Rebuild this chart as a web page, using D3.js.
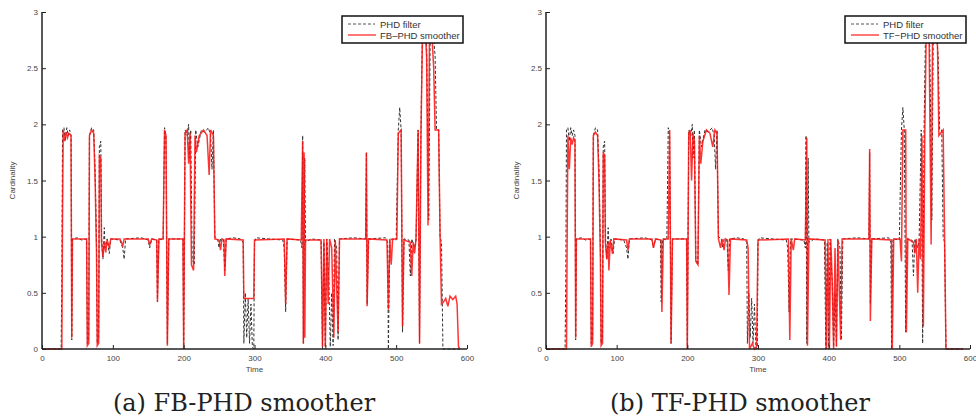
<!DOCTYPE html>
<html>
<head>
<meta charset="utf-8">
<script src="https://cdn.jsdelivr.net/npm/d3@7"></script>
<style>
  html, body { margin: 0; padding: 0; background: #fff; }
  svg { display: block; }
  .tick text { font-family: "Liberation Sans", Arial, sans-serif; font-size: 8px; fill: #444; }
</style>
</head>
<body>
<div id="container"></div>
<script>
// PHD filter cardinality [time, value] (same in both panels)
const phdPoints = [
  [1,0],[27,0],[28,0.62],[29,1.95],[31,1.97],[33,1.85],[35,1.97],[37,1.9],[39,1.95],[41,1.9],[42,0.08],[43,0.98],
  [50,0.99],[56,0.97],[63,0.98],[64,0.05],[66,0.1],[67,1.9],[70,1.97],[73,1.95],[75,1.6],[77,0.9],[78,0.05],[80,0.1],
  [81,1.8],[83,1.85],[84,1.0],[86,0.8],[88,1.08],[89,0.9],[92,0.98],[95,0.85],[97,0.98],[110,0.97],[114,0.9],[116,0.8],
  [118,0.98],[140,0.99],[150,0.97],[152,0.9],[155,0.98],[162,0.97],[163,0.42],[165,0.98],[171,0.97],[173,1.97],[175,1.9],
  [177,0.05],[179,0.98],[199,0.98],[200,0.0],[202,1.95],[205,1.9],[207,2.0],[208,1.7],[210,1.95],[212,0.8],[215,0.75],
  [217,1.95],[220,1.8],[225,1.95],[230,1.93],[235,1.97],[238,1.9],[240,1.6],[242,1.95],[244,1.0],[248,0.98],[250,0.9],
  [252,0.98],[256,0.97],[258,0.7],[260,0.98],[270,0.99],[280,0.98],[284,0.95],[285,0.05],[287,0.5],[289,0.1],[291,0.45],
  [293,0.05],[295,0.4],[297,0.02],[299,0.0],[300,0.95],[302,0.99],[320,0.98],[340,0.97],[342,0.9],[344,0.33],[346,0.98],
  [365,0.97],[367,0.9],[368,1.9],[369,0.05],[371,1.7],[372,0.95],[380,0.98],[394,0.97],[396,0.0],[398,0.95],[400,0.02],
  [402,0.98],[405,0.6],[407,0.02],[409,0.5],[411,0.03],[413,0.98],[416,0.9],[418,0.08],[420,0.98],[440,0.99],[457,0.98],
  [458,1.75],[459,0.4],[461,0.98],[485,0.99],[488,0.95],[489,0.0],[491,0.98],[500,0.97],[503,1.95],[505,2.15],[507,1.95],
  [509,0.15],[511,0.98],[518,0.97],[520,0.65],[522,0.98],[526,0.9],[528,0.97],[531,1.95],[533,0.05],[535,1.95],[537,2.8],
  [540,2.85],[543,2.7],[546,1.15],[548,2.8],[552,2.85],[555,2.6],[557,1.95],[560,1.95],[562,1.0],[564,0.95],[566,0.0],[590,0.0]
];

// FB-PHD smoother (panel a)
const fbPoints = [
  [1,0],[28,0],[29,1.2],[30,1.95],[32,1.85],[34,1.93],[36,1.88],[38,1.92],[41,1.9],[42,0.1],[43,0.98],[63,0.98],
  [64,0.03],[66,0.05],[67,1.9],[70,1.95],[73,1.92],[75,1.5],[77,0.85],[78,0.03],[80,0.05],[81,1.72],[83,1.7],[84,0.95],
  [86,0.82],[88,0.95],[90,0.86],[92,0.97],[95,0.9],[97,0.98],[110,0.98],[114,0.92],[116,0.98],[150,0.98],[152,0.93],
  [155,0.98],[162,0.97],[163,0.42],[165,0.98],[171,0.98],[173,1.95],[175,1.9],[177,0.03],[179,0.98],[199,0.98],[200,0.0],
  [202,1.92],[205,1.95],[207,1.65],[209,1.92],[211,0.75],[214,0.7],[216,1.9],[218,1.75],[222,1.9],[228,1.95],[233,1.9],
  [236,1.55],[238,1.95],[242,1.9],[244,0.98],[250,0.97],[252,0.88],[254,0.98],[257,0.97],[258,0.65],[260,0.98],[284,0.97],
  [285,0.45],[297,0.45],[299,0.45],[300,0.97],[342,0.98],[344,0.4],[346,0.98],[366,0.97],[368,1.85],[369,0.05],[370,1.75],
  [371,0.1],[372,0.97],[394,0.97],[396,0.02],[398,0.98],[400,0.02],[402,0.98],[404,0.4],[406,0.98],[409,0.9],[412,0.1],
  [414,0.97],[418,0.15],[420,0.98],[457,0.98],[458,1.75],[459,0.38],[461,0.98],[487,0.97],[489,0.35],[491,0.98],[493,0.75],
  [495,0.98],[501,0.98],[503,1.92],[507,1.95],[509,0.2],[511,0.97],[520,0.95],[522,0.65],[524,0.95],[526,0.85],[528,0.98],
  [531,1.95],[533,0.05],[535,1.9],[537,2.75],[541,2.85],[543,2.6],[545,1.1],[547,2.75],[550,2.85],[553,2.5],[555,1.95],
  [560,1.95],[562,1.0],[564,0.4],[567,0.42],[570,0.45],[573,0.38],[576,0.47],[580,0.44],[584,0.47],[586,0.4],[588,0.02],[590,0.0]
];

// TF-PHD smoother (panel b)
const tfPoints = [
  [1,0],[29,0],[30,1.05],[31,1.9],[33,1.6],[35,1.88],[37,1.82],[39,1.88],[41,1.85],[42,0.1],[43,0.98],[63,0.98],
  [64,0.02],[66,0.05],[67,1.9],[70,1.93],[73,1.9],[75,1.5],[77,0.8],[78,0.03],[80,0.05],[81,1.75],[83,1.72],[84,0.95],
  [86,0.8],[88,0.95],[89,0.7],[91,0.97],[94,0.85],[96,0.98],[114,0.97],[116,0.88],[118,0.98],[150,0.98],[152,0.9],
  [155,0.98],[163,0.97],[164,0.33],[166,0.98],[173,0.98],[175,1.95],[177,0.05],[179,0.98],[199,0.98],[200,0.0],[202,1.92],
  [204,1.95],[206,1.5],[208,1.92],[210,1.85],[212,0.78],[215,0.75],[217,1.9],[219,1.65],[222,1.85],[227,1.95],[232,1.92],
  [236,1.8],[239,1.95],[242,1.92],[244,0.98],[247,0.9],[249,0.98],[252,0.88],[254,0.98],[257,0.97],[259,0.48],[261,0.98],
  [284,0.97],[286,0.9],[288,0.0],[292,0.05],[295,0.0],[298,0.02],[300,0.97],[343,0.98],[345,0.08],[347,0.98],[350,0.88],
  [352,0.98],[367,0.97],[369,1.88],[370,0.03],[372,0.98],[395,0.97],[397,0.0],[399,0.98],[401,0.0],[403,0.98],[405,0.6],
  [407,0.0],[409,0.9],[411,0.02],[413,0.97],[417,0.08],[419,0.98],[457,0.98],[458,1.78],[459,0.25],[461,0.98],[489,0.97],
  [490,0.0],[492,0.98],[501,0.98],[503,0.78],[505,1.95],[509,1.95],[510,0.15],[512,0.98],[520,0.95],[522,0.85],[524,0.98],
  [526,0.5],[528,0.98],[530,0.8],[532,1.9],[534,0.2],[536,1.9],[538,2.8],[542,2.85],[545,0.93],[547,2.8],[551,2.85],
  [554,2.7],[556,1.9],[562,1.95],[564,1.0],[566,0.0],[590,0.0]
];

const xTicks = [0, 100, 200, 300, 400, 500, 600];
const yTicks = [0, 0.5, 1, 1.5, 2, 2.5, 3];

const panels = [
  {left: 42, right: 467, smoother: fbPoints, name: "FB\u2013PHD smoother", caption: "(a) FB-PHD smoother", capX: 244},
  {left: 546, right: 970, smoother: tfPoints, name: "TF\u2212PHD smoother", caption: "(b) TF-PHD smoother", capX: 740}
];

const width = 976, height = 419;
const plotTop = 12, plotBottom = 349;

const svg = d3.select("#container").append("svg")
  .attr("width", width)
  .attr("height", height);

panels.forEach(p => {
  const x = d3.scaleLinear().domain([0, 600]).range([p.left, p.right]);
  const y = d3.scaleLinear().domain([0, 3]).range([plotBottom, plotTop]);
  const g = svg.append("g");

  const line = d3.line().x(d => x(d[0])).y(d => y(d[1]));

  // filtre PHD en pointillés noirs
  g.append("path")
    .datum(phdPoints)
    .attr("fill", "none")
    .attr("stroke", "#333")
    .attr("stroke-width", 1)
    .attr("stroke-dasharray", "3,2")
    .attr("d", line);

  // lisseur en rouge
  g.append("path")
    .datum(p.smoother)
    .attr("fill", "none")
    .attr("stroke", "#ff1010")
    .attr("stroke-opacity", 0.85)
    .attr("stroke-width", 1.5)
    .attr("d", line);

  // axes
  const xAxis = g.append("g")
    .attr("transform", `translate(0,${plotBottom})`)
    .call(d3.axisBottom(x).tickValues(xTicks).tickSize(-4).tickPadding(6).tickFormat(d3.format("d")));
  xAxis.select(".domain").attr("stroke", "#222").attr("stroke-width", 1.5).attr("d", `M${p.left},0H${p.right}`);
  xAxis.selectAll(".tick line").attr("stroke", "#222");

  const yAxis = g.append("g")
    .attr("transform", `translate(${p.left},0)`)
    .call(d3.axisLeft(y).tickValues(yTicks).tickSize(-4).tickPadding(4).tickFormat(d => d));
  yAxis.select(".domain").attr("stroke", "#222").attr("stroke-width", 1.5).attr("d", `M0,${plotBottom}V${plotTop}`);
  yAxis.selectAll(".tick line").attr("stroke", "#222");

  g.append("text")
    .attr("transform", `translate(${p.left - 27},${(plotTop + plotBottom) / 2}) rotate(-90)`)
    .attr("text-anchor", "middle")
    .attr("font-family", "Liberation Sans, Arial, sans-serif")
    .attr("font-size", 8)
    .attr("fill", "#444")
    .text("Cardinality");

  g.append("text")
    .attr("x", (p.left + p.right) / 2)
    .attr("y", 372)
    .attr("text-anchor", "middle")
    .attr("font-family", "Liberation Sans, Arial, sans-serif")
    .attr("font-size", 8)
    .attr("fill", "#444")
    .text("Time");

  // légende
  const lx = p.right - 125, ly = 16;
  const leg = g.append("g").attr("transform", `translate(${lx},${ly})`);
  leg.append("rect")
    .attr("width", 121).attr("height", 27)
    .attr("fill", "#fff").attr("stroke", "#111").attr("stroke-width", 1.5);
  leg.append("line")
    .attr("x1", 6).attr("x2", 33).attr("y1", 8).attr("y2", 8)
    .attr("stroke", "#555").attr("stroke-width", 1).attr("stroke-dasharray", "3,2");
  leg.append("line")
    .attr("x1", 6).attr("x2", 34).attr("y1", 19).attr("y2", 19)
    .attr("stroke", "#ff1a1a").attr("stroke-opacity", 0.6).attr("stroke-width", 2);
  leg.append("text")
    .attr("x", 38).attr("y", 11.5)
    .attr("font-family", "Liberation Sans, Arial, sans-serif")
    .attr("font-size", 9.5).attr("fill", "#333")
    .text("PHD filter");
  leg.append("text")
    .attr("x", 38).attr("y", 22.5)
    .attr("font-family", "Liberation Sans, Arial, sans-serif")
    .attr("font-size", 9.5).attr("fill", "#333")
    .text(p.name);

  // légende sous la figure
  svg.append("text")
    .attr("x", p.capX)
    .attr("y", 411)
    .attr("text-anchor", "middle")
    .attr("font-family", "DejaVu Serif, serif")
    .attr("font-size", 24)
    .attr("fill", "#222")
    .text(p.caption);
});
</script>
</body>
</html>
